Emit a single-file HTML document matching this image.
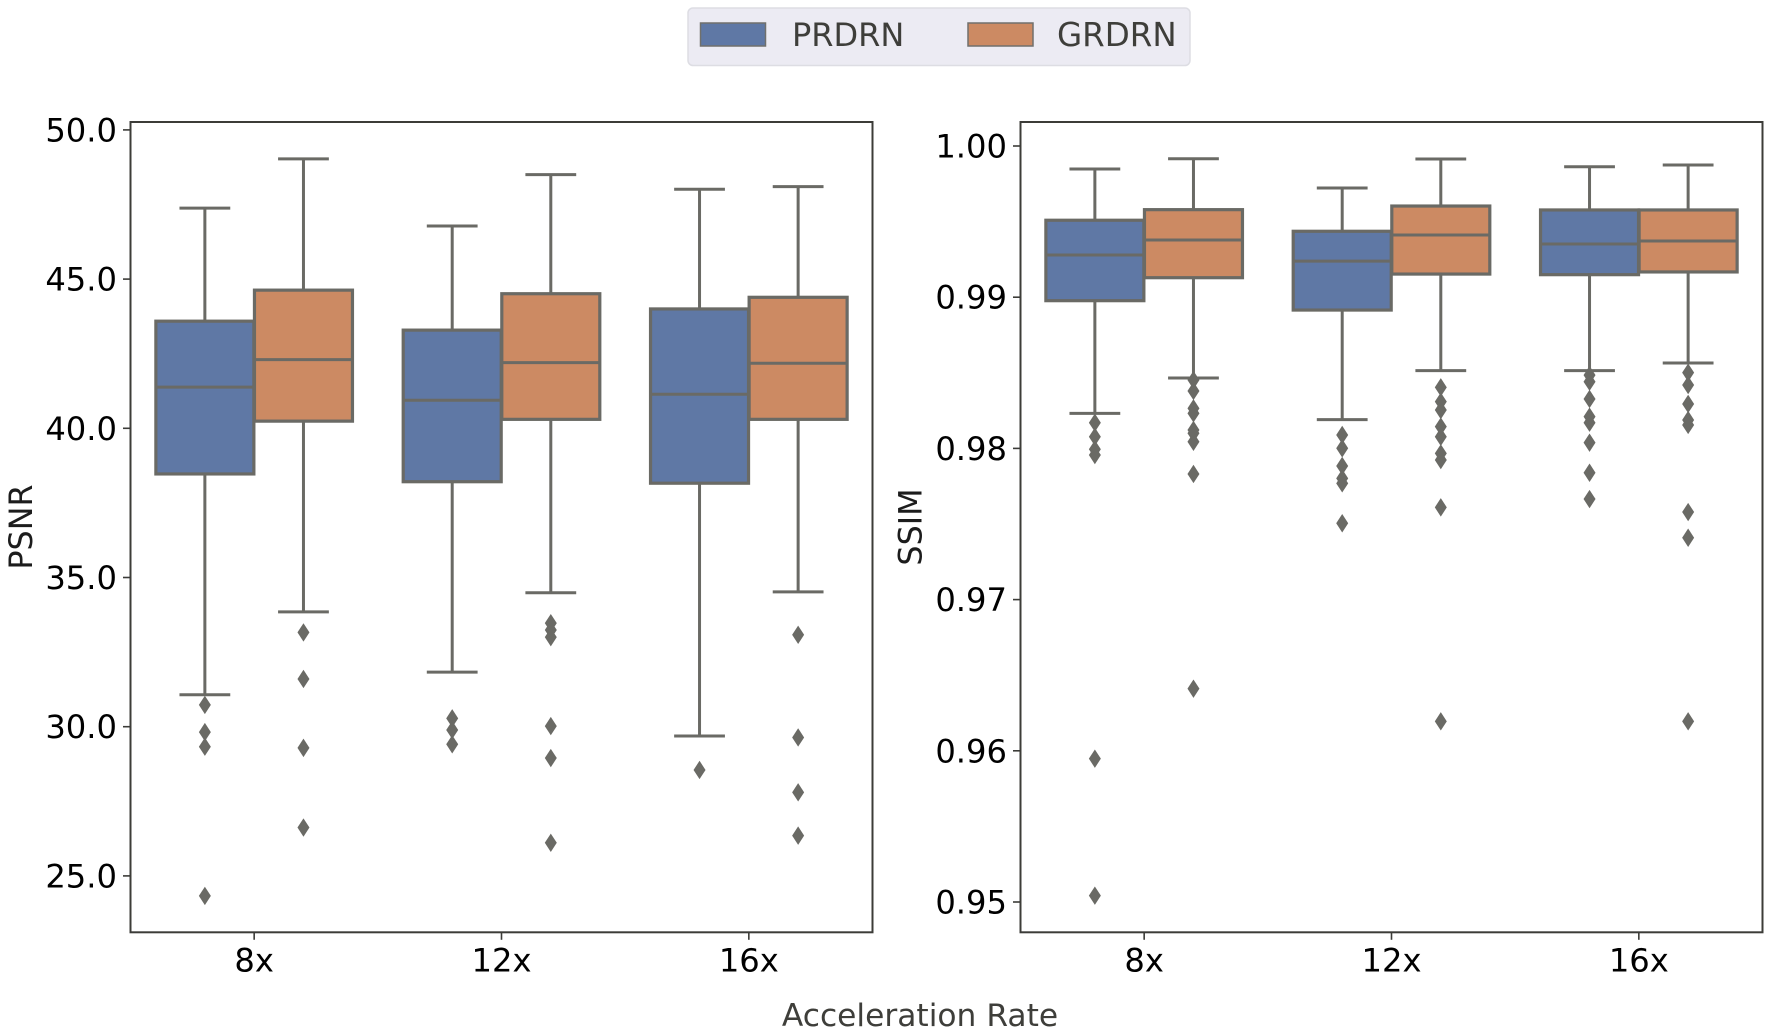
<!DOCTYPE html>
<html lang="en">
<head>
<meta charset="utf-8">
<title>PSNR and SSIM box plots</title>
<style>
  html, body { margin: 0; padding: 0; background: #fff; }
  body { width: 1772px; height: 1036px; overflow: hidden; }
  svg { display: block; }
  text { font-family: "DejaVu Sans", "Liberation Sans", sans-serif; }
</style>
</head>
<body>
<svg id="chart" xmlns="http://www.w3.org/2000/svg" width="1772" height="1036" viewBox="0 0 1772 1036">
  <rect x="0" y="0" width="1772" height="1036" fill="#ffffff"/>

  <g>
    <rect x="688" y="8" width="502" height="57.5" rx="5" fill="#ecebf3" stroke="#dddde3" stroke-width="1.5"/>
    <g>
      <rect x="700.5" y="23" width="65" height="23" fill="#5f78a5" stroke="#70706c" stroke-width="1.5"/>
      <text x="792" y="46" font-size="32" fill="#3e3e3a">PRDRN</text>
    </g>
    <g>
      <rect x="968" y="23" width="65" height="23" fill="#cc8a63" stroke="#70706c" stroke-width="1.5"/>
      <text x="1057" y="46" font-size="32.5" fill="#3e3e3a">GRDRN</text>
    </g>
  </g>

  <g id="panel-psnr"></g>
  <g id="panel-ssim"></g>

  <text transform="translate(32,527) rotate(-90)" text-anchor="middle" font-size="31.8" fill="#1c1c1c">PSNR</text>
  <text transform="translate(921.5,527) rotate(-90)" text-anchor="middle" font-size="31.8" fill="#1c1c1c">SSIM</text>
  <text x="920" y="1026" text-anchor="middle" font-size="31.3" fill="#3e3e3a">Acceleration Rate</text>
</svg>

<script>
// Categories and tick labels
const categories = ["8x", "12x", "16x"];
const psnrTicks = [25, 30, 35, 40, 45, 50];
const psnrTickLabels = ["25.0", "30.0", "35.0", "40.0", "45.0", "50.0"];
const ssimTicks = [0.95, 0.96, 0.97, 0.98, 0.99, 1.0];
const ssimTickLabels = ["0.95", "0.96", "0.97", "0.98", "0.99", "1.00"];

// PSNR, PRDRN
const psnrPrdrnHigh = [47.38, 46.78, 48.01];
const psnrPrdrnQ3 = [43.59, 43.29, 44.00];
const psnrPrdrnMedian = [41.38, 40.94, 41.14];
const psnrPrdrnQ1 = [38.47, 38.21, 38.16];
const psnrPrdrnLow = [31.07, 31.83, 29.69];
const psnrPrdrnOutliers = [
  [30.73, 29.82, 29.33, 24.33],
  [30.28, 29.89, 29.41],
  [28.55]
];

// PSNR, GRDRN
const psnrGrdrnHigh = [49.03, 48.50, 48.10];
const psnrGrdrnQ3 = [44.63, 44.51, 44.39];
const psnrGrdrnMedian = [42.30, 42.20, 42.18];
const psnrGrdrnQ1 = [40.24, 40.30, 40.30];
const psnrGrdrnLow = [33.85, 34.49, 34.52];
const psnrGrdrnOutliers = [
  [33.16, 31.60, 29.29, 26.62],
  [33.47, 33.24, 33.00, 30.02, 28.95, 26.11],
  [33.08, 29.64, 27.80, 26.35]
];

// SSIM, PRDRN
const ssimPrdrnHigh = [0.99848, 0.99722, 0.99863];
const ssimPrdrnQ3 = [0.99509, 0.99436, 0.99577];
const ssimPrdrnMedian = [0.99279, 0.99239, 0.99352];
const ssimPrdrnQ1 = [0.98977, 0.98915, 0.99149];
const ssimPrdrnLow = [0.98232, 0.98190, 0.98514];
const ssimPrdrnOutliers = [
  [0.98170, 0.98077, 0.97994, 0.97956, 0.95948, 0.95042],
  [0.98089, 0.98001, 0.97884, 0.97802, 0.97769, 0.97505],
  [0.98485, 0.98441, 0.98327, 0.98210, 0.98170, 0.98038, 0.97839, 0.97665]
];

// SSIM, GRDRN
const ssimGrdrnHigh = [0.99916, 0.99914, 0.99874];
const ssimGrdrnQ3 = [0.99579, 0.99603, 0.99577];
const ssimGrdrnMedian = [0.99378, 0.99411, 0.99372];
const ssimGrdrnQ1 = [0.99129, 0.99153, 0.99167];
const ssimGrdrnLow = [0.98466, 0.98514, 0.98565];
const ssimGrdrnOutliers = [
  [0.98452, 0.98380, 0.98265, 0.98232, 0.98122, 0.98100, 0.98044, 0.97831, 0.96411],
  [0.98404, 0.98309, 0.98254, 0.98144, 0.98077, 0.97967, 0.97923, 0.97610, 0.96195],
  [0.98501, 0.98419, 0.98294, 0.98188, 0.98155, 0.97579, 0.97409, 0.96195]
];

const SVG_NS = "http://www.w3.org/2000/svg";
const GRAY = "#6a6a65";
const SPINE = "#3c3c38";
const BLUE = "#5f78a5";
const ORANGE = "#cc8a63";
const TOP = 122;
const BOTTOM = 932.3;

function make(parent, tag, attrs) {
  const el = document.createElementNS(SVG_NS, tag);
  for (const key in attrs) el.setAttribute(key, attrs[key]);
  parent.appendChild(el);
  return el;
}

// Axis functions
function psnrY(v) { return 428.3 - (v - 40) * 29.84; }
function ssimY(v) { return 146 + (1 - v) * 15120; }
function bandX(left, index) { return left + (742 / 3) * (index + 0.5); }

function drawSeries(group, series, y, left) {
  categories.forEach(function (cat, i) {
    const center = bandX(left, i) + series.offset;
    const prefix = series.name + '-' + cat;

    const box = make(group, 'g', {});
    
    

    const upper = make(box, 'line', { x1: center, x2: center, y1: y(series.q3[i]), y2: y(series.high[i]), stroke: GRAY, 'stroke-width': 3 });
    
    

    const lower = make(box, 'line', { x1: center, x2: center, y1: y(series.q1[i]), y2: y(series.low[i]), stroke: GRAY, 'stroke-width': 3 });
    
    

    const capHigh = make(box, 'line', { x1: center - 25.4, x2: center + 25.4, y1: y(series.high[i]), y2: y(series.high[i]), stroke: GRAY, 'stroke-width': 3 });
    
    

    const capLow = make(box, 'line', { x1: center - 25.4, x2: center + 25.4, y1: y(series.low[i]), y2: y(series.low[i]), stroke: GRAY, 'stroke-width': 3 });
    
    

    const rect = make(box, 'rect', { x: center - 49, width: 98, y: y(series.q3[i]), height: y(series.q1[i]) - y(series.q3[i]), fill: series.color, stroke: GRAY, 'stroke-width': 3.2 });
    
    

    const median = make(box, 'line', { x1: center - 49, x2: center + 49, y1: y(series.median[i]), y2: y(series.median[i]), stroke: GRAY, 'stroke-width': 3 });
    
    

    series.outliers[i].forEach(function (v) {
      const py = y(v);
      const points = [[center, py - 9.2], [center + 6, py], [center, py + 9.2], [center - 6, py]].map(function (p) { return p.join(','); }).join(' ');
      const dot = make(box, 'polygon', { points: points, fill: GRAY });
      
      
    });
  });
}

function drawPanel(group, cfg) {
  const left = cfg.left;
  const right = left + 742;

  cfg.series.forEach(function (s) { drawSeries(group, s, cfg.y, left); });

  const frame = make(group, 'rect', { x: left, y: TOP, width: right - left, height: BOTTOM - TOP, fill: 'none', stroke: SPINE, 'stroke-width': 2 });
  
  

  cfg.ticks.forEach(function (t, i) {
    const py = cfg.y(t);
    const tick = make(group, 'line', { x1: left - 7.5, x2: left, y1: py, y2: py, stroke: SPINE, 'stroke-width': 1.6 });
    
    
    const label = make(group, 'text', { x: left - 13.5, y: py + 11.5, 'text-anchor': 'end', 'font-size': 32.2, fill: '#000000' });
    
    
    label.textContent = cfg.tickLabels[i];
  });

  categories.forEach(function (cat, i) {
    const px = bandX(left, i);
    const tick = make(group, 'line', { x1: px, x2: px, y1: BOTTOM, y2: BOTTOM + 7.5, stroke: SPINE, 'stroke-width': 1.6 });
    
    
    const label = make(group, 'text', { x: px, y: 971.5, 'text-anchor': 'middle', 'font-size': 32.2, fill: '#000000' });
    
    
    label.textContent = cat;
  });
}

drawPanel(document.getElementById('panel-psnr'), {
  name: 'psnr',
  left: 130.5,
  y: psnrY,
  ticks: psnrTicks,
  tickLabels: psnrTickLabels,
  series: [
    { name: 'prdrn', offset: -49.3, color: BLUE, high: psnrPrdrnHigh, q3: psnrPrdrnQ3, median: psnrPrdrnMedian, q1: psnrPrdrnQ1, low: psnrPrdrnLow, outliers: psnrPrdrnOutliers },
    { name: 'grdrn', offset: 49.3, color: ORANGE, high: psnrGrdrnHigh, q3: psnrGrdrnQ3, median: psnrGrdrnMedian, q1: psnrGrdrnQ1, low: psnrGrdrnLow, outliers: psnrGrdrnOutliers }
  ]
});

drawPanel(document.getElementById('panel-ssim'), {
  name: 'ssim',
  left: 1020.5,
  y: ssimY,
  ticks: ssimTicks,
  tickLabels: ssimTickLabels,
  series: [
    { name: 'prdrn', offset: -49.3, color: BLUE, high: ssimPrdrnHigh, q3: ssimPrdrnQ3, median: ssimPrdrnMedian, q1: ssimPrdrnQ1, low: ssimPrdrnLow, outliers: ssimPrdrnOutliers },
    { name: 'grdrn', offset: 49.3, color: ORANGE, high: ssimGrdrnHigh, q3: ssimGrdrnQ3, median: ssimGrdrnMedian, q1: ssimGrdrnQ1, low: ssimGrdrnLow, outliers: ssimGrdrnOutliers }
  ]
});
</script>
</body>
</html>
